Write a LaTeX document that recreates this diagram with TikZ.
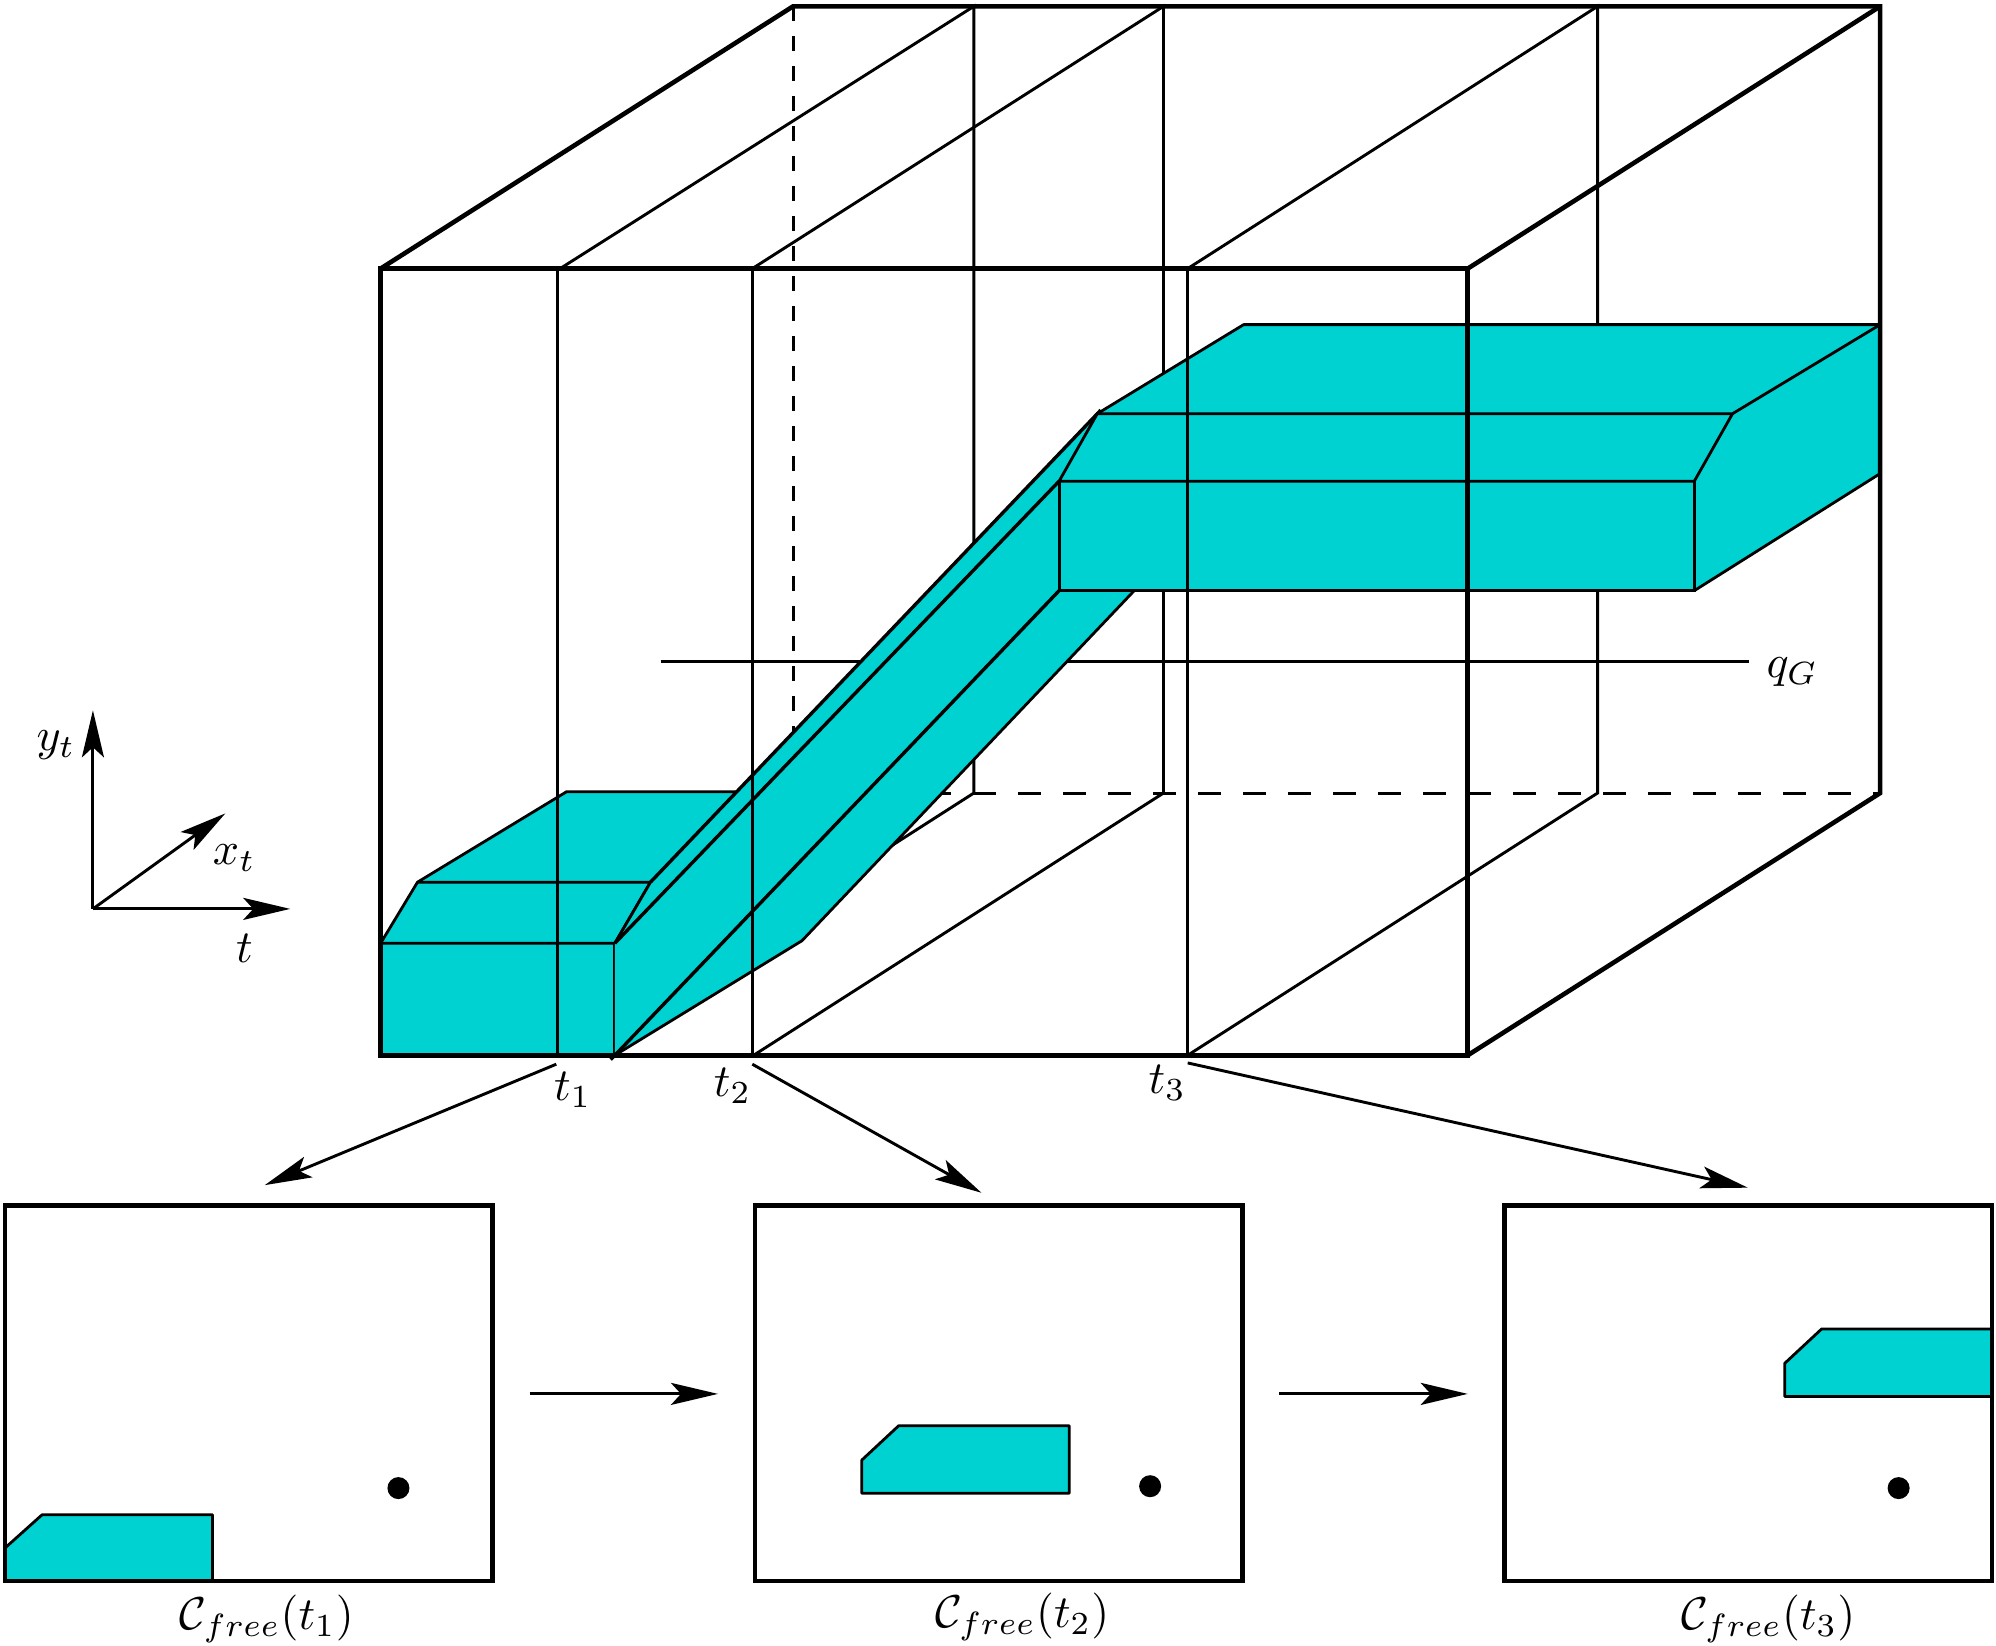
\documentclass[tikz,border=0pt]{standalone}
\usetikzlibrary{arrows.meta}
\definecolor{obst}{RGB}{0,209,209}
\tikzset{
  thick box/.style={line width=4.6pt,line join=miter},
  thinl/.style={line width=2.9pt},
  obstf/.style={fill=obst,draw=black,line width=2.8pt,line join=round},
  edge/.style={draw=black,line width=2.8pt},
  sweep/.style={draw=black,line width=3.4pt},
  arr/.style={line width=2.9pt,-{Stealth[length=47pt,width=22pt,inset=10pt]}},
  lab/.style={inner sep=0pt,scale=4.6},
  room/.style={fill=white,inner sep=0pt,outer sep=0pt,minimum width=487.5pt,minimum height=375.5pt},
  dot/.style={circle,fill=black,inner sep=0pt,minimum size=22pt},
}
\begin{document}
\begin{tikzpicture}[x=1.27296pt,y=-1.27296pt]
\useasboundingbox (0,0) rectangle (1568,1293);
% hidden dashed lines and rear lines
\draw[line width=3pt,dash pattern=on 15pt off 15pt] (623,5) -- (623,623);
\draw[line width=3pt,dash pattern=on 23pt off 22pt] (623,623) -- (1477,623);
\draw[thinl] (440,211) -- (765,5) -- (765,623) -- (484,803);
\draw[thinl] (591,211) -- (914,5) -- (914,623) -- (592,829);
\draw[thinl] (933,211) -- (1255,5) -- (1255,623) -- (933,829);
\draw[thinl] (519,520) -- (1374,520);
% obstacle, low block
\fill[obst] (299,741) -- (328,693) -- (445,622) -- (630,622) -- (511,693) -- (483,741) -- (483,829) -- (299,829) -- cycle;
\draw[edge] (299,741) -- (328,693) -- (445,622) -- (578,622);
\draw[edge] (328,693) -- (511,693) -- (483,741) -- (299,741);
\draw[edge] (483,741) -- (483,829);
% obstacle, sweep
\fill[obst] (483,829) -- (630,739) -- (891,464) -- (832,464) -- (832,378) -- (862,325) -- (511,693) -- (483,741) -- cycle;
\draw[edge] (483,829) -- (630,739) -- (891,464);
\draw[sweep,shorten >=-5pt] (511,693) -- (862,325);
\draw[sweep] (483,741) -- (832,378);
\draw[sweep,shorten <=-6pt] (483,829) -- (832,464);
\draw[edge] (483,741) -- (511,693);
% obstacle, high block
\fill[obst] (832,378) -- (862,325) -- (977,255) -- (1477,255) -- (1477,372) -- (1331,464) -- (832,464) -- cycle;
\draw[edge,line join=round] (862,325) -- (977,255) -- (1477,255) -- (1477,372) -- (1331,464);
\draw[edge] (832,378) -- (862,325) -- (1361,325) -- (1331,378) -- cycle;
\draw[edge] (832,378) -- (832,464) -- (1331,464) -- (1331,378);
\draw[edge] (1361,325) -- (1477,255);
% front lines
\draw[thinl] (438,211) -- (438,829);
\draw[thinl] (591,211) -- (591,829);
\draw[thinl] (933,211) -- (933,829);
\draw[thick box] (299,211) -- (1153,211) -- (1153,829) -- (299,829) -- cycle;
\draw[thick box] (299,211) -- (623,5) -- (1477,5) -- (1477,623) -- (1153,829);
\draw[thick box] (1153,211) -- (1477,5);
% time labels
\node[lab] (t1) at (450,856) {$t_1$};
\node[lab] (t2) at (575.5,853) {$t_2$};
\node[lab] (t3) at (917,851) {$t_3$};
\node[lab] (qg) at (1408,528) {$q_G$};
% free space rooms
\node[room] (r1) at (195.5,1094.5) {};
\node[room] (r2) at (784.5,1094.5) {};
\node[room] (r3) at (1373.5,1094.5) {};
\filldraw[obstf] (4,1216) -- (33,1190) -- (167,1190) -- (167,1242) -- (4,1242) -- cycle;
\filldraw[obstf] (677,1147) -- (706,1120) -- (840,1120) -- (840,1173) -- (677,1173) -- cycle;
\filldraw[obstf] (1402,1071) -- (1431,1044) -- (1565,1044) -- (1565,1097) -- (1402,1097) -- cycle;
\draw[thick box] (r1.south west) rectangle (r1.north east);
\draw[thick box] (r2.south west) rectangle (r2.north east);
\draw[thick box] (r3.south west) rectangle (r3.north east);
\node[dot] (d1) at (313,1169) {};
\node[dot] (d2) at (903.5,1167.5) {};
\node[dot] (d3) at (1491.5,1169) {};
\node[lab] (c1) at (209.5,1272) {$\mathcal{C}_{free}(t_1)$};
\node[lab] (c2) at (803,1270) {$\mathcal{C}_{free}(t_2)$};
\node[lab] (c3) at (1389,1272) {$\mathcal{C}_{free}(t_3)$};
% arrows
\coordinate (a1) at (437,836); \coordinate (b1) at (208,931);
\coordinate (a2) at (591,836); \coordinate (b2) at (771,937);
\coordinate (a3) at (933,835); \coordinate (b3) at (1373,933);
\draw[arr] (a1) -- (b1);
\draw[arr] (a2) -- (b2);
\draw[arr] (a3) -- (b3);
\coordinate (s1) at (416,1095); \coordinate (e1) at (564,1095);
\coordinate (s2) at (1005,1095); \coordinate (e2) at (1153,1095);
\draw[arr] (s1) -- (e1);
\draw[arr] (s2) -- (e2);
% axes
\coordinate (o) at (73,714);
\coordinate (ay) at (73,558);
\coordinate (ax) at (177,639);
\coordinate (at) at (228,714);
\draw[arr] (o) -- (ay);
\draw[arr] (o) -- (ax);
\draw[arr] (o) -- (at);
\node[lab] (ly) at (44,585) {$y_t$};
\node[lab] (lx) at (184,674) {$x_t$};
\node[lab] (lt) at (192,745) {$t$};
\end{tikzpicture}
\end{document}
